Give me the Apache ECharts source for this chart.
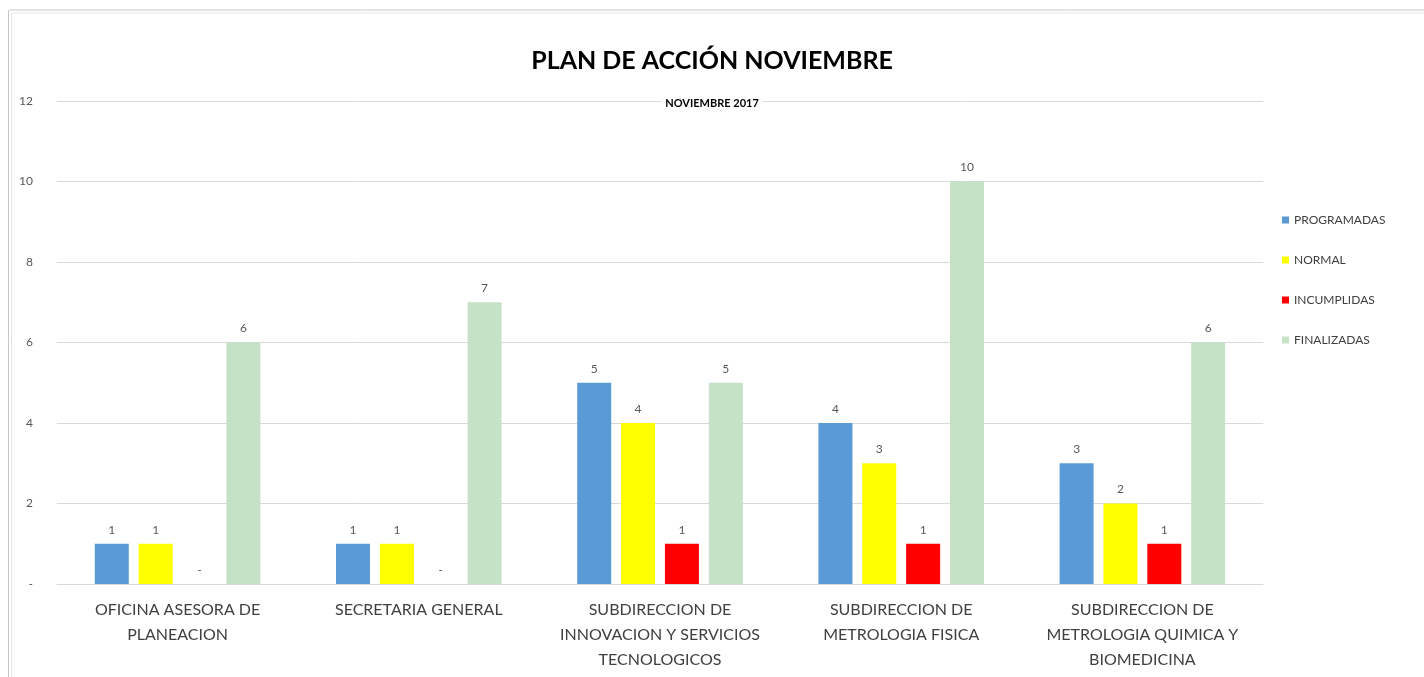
<!DOCTYPE html>
<html lang="es">
<head>
	<meta charset="UTF-8">
	<title>Plan de acción noviembre</title>
	<style>
	body, div {
		margin: 0;
		padding: 0;
	}
	#echart {
		width: 1424px;
		height: 677px;
		background: #fff;
	}
	</style>
</head>
<body>
	<div id="echart"></div>

	<script src="https://cdn.jsdelivr.net/npm/echarts@6/dist/echarts.min.js"></script>

	<script>
var categories = [
	'OFICINA ASESORA DE\nPLANEACION',
	'SECRETARIA GENERAL',
	'SUBDIRECCION DE\nINNOVACION Y SERVICIOS\nTECNOLOGICOS',
	'SUBDIRECCION DE\nMETROLOGIA FISICA',
	'SUBDIRECCION DE\nMETROLOGIA QUIMICA Y\nBIOMEDICINA'
];
var programadas = [1, 1, 5, 4, 3];
var normal = [1, 1, 4, 3, 2];
var incumplidas = [0, 0, 1, 1, 1];
var finalizadas = [6, 7, 5, 10, 6];
var yTicks = [0, 2, 4, 6, 8, 10, 12];

var myEchart = echarts.init(document.getElementById('echart'));

var font = 'Lato, "Open Sans", sans-serif';

// etiquetas tipo contabilidad: el cero se ve como "-"
function numLabel(p) {
	return p.value === 0 ? '-' : p.value;
}

function barSerie(name, data, color) {
	return {
		name: name,
		type: 'bar',
		data: data,
		barWidth: 34,
		barGap: '29%',
		itemStyle: { color: color },
		label: {
			show: true,
			position: 'top',
			distance: 8,
			formatter: numLabel,
			color: '#595959',
			fontSize: 12,
			fontFamily: font
		}
	};
}

var option = {
	backgroundColor: '#fff',
	animation: false,
	title: [
		{
			text: 'PLAN DE ACCIÓN NOVIEMBRE',
			left: 'center',
			top: 43,
			textStyle: {
				fontFamily: font,
				fontSize: 25,
				fontWeight: 'bold',
				color: '#000'
			}
		},
		{
			text: 'NOVIEMBRE 2017',
			left: 'center',
			top: 97,
			padding: [1, 4],
			backgroundColor: '#fff',
			textStyle: {
				fontFamily: font,
				fontSize: 11,
				fontWeight: 'bold',
				color: '#000'
			}
		}
	],
	legend: {
		orient: 'vertical',
		left: 1277,
		top: 209,
		itemWidth: 7,
		itemHeight: 7,
		itemGap: 28,
		icon: 'rect',
		textStyle: {
			fontFamily: font,
			fontSize: 12,
			color: '#404040'
		}
	},
	grid: {
		left: 57,
		right: 161,
		top: 101,
		bottom: 93
	},
	xAxis: {
		type: 'category',
		data: categories,
		axisLine: { lineStyle: { color: '#d9d9d9' } },
		axisTick: { show: false },
		axisLabel: {
			interval: 0,
			margin: 13,
			color: '#404040',
			fontFamily: font,
			fontSize: 16,
			lineHeight: 25
		}
	},
	yAxis: {
		type: 'value',
		min: yTicks[0],
		max: yTicks[yTicks.length - 1],
		interval: 2,
		axisLine: { show: false },
		axisTick: { show: false },
		splitLine: { lineStyle: { color: '#d9d9d9' } },
		axisLabel: {
			margin: 24,
			color: '#595959',
			fontFamily: font,
			fontSize: 12,
			formatter: function (v) {
				return v === 0 ? '-' : v;
			}
		}
	},
	series: [
		barSerie('PROGRAMADAS', programadas, '#5b9bd5'),
		barSerie('NORMAL', normal, '#ffff00'),
		barSerie('INCUMPLIDAS', incumplidas, '#ff0000'),
		barSerie('FINALIZADAS', finalizadas, '#c5e2c6')
	],
	// marco de la captura
	graphic: [
		{ type: 'line', shape: { x1: 10, y1: 10, x2: 1424, y2: 10 }, style: { stroke: '#c6c6c6', lineWidth: 1 } },
		{ type: 'line', shape: { x1: 12, y1: 13, x2: 1424, y2: 13 }, style: { stroke: '#e4e4e4', lineWidth: 1 } },
		{ type: 'line', shape: { x1: 8.5, y1: 10, x2: 8.5, y2: 677 }, style: { stroke: '#c6c6c6', lineWidth: 1 } },
		{ type: 'line', shape: { x1: 11.5, y1: 13, x2: 11.5, y2: 677 }, style: { stroke: '#e4e4e4', lineWidth: 1 } }
	]
};

myEchart.setOption(option);
	</script>
</body>
</html>
